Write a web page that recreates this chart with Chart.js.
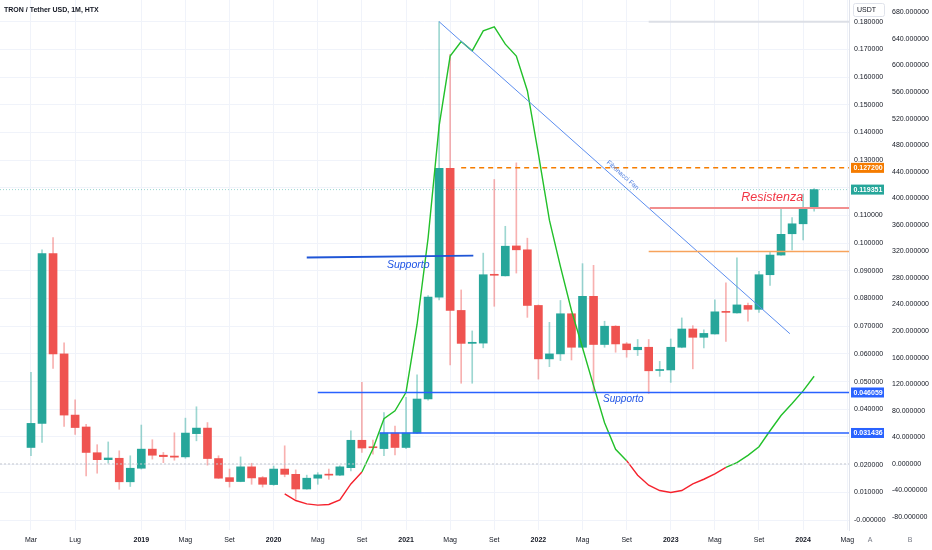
<!DOCTYPE html>
<html><head><meta charset="utf-8">
<script src="https://cdn.jsdelivr.net/npm/chart.js@4.4.1/dist/chart.umd.min.js"></script>
<style>html,body{margin:0;padding:0;background:#fff;}#wrap{position:relative;width:932px;height:550px;}</style>
</head><body><div id="wrap"><canvas id="c"></canvas></div>
<script>
// ---- categories: monthly candles, Mar 2018 .. Feb 2024
const months = ['2018-03','2018-04','2018-05','2018-06','2018-07','2018-08','2018-09','2018-10','2018-11','2018-12',
'2019-01','2019-02','2019-03','2019-04','2019-05','2019-06','2019-07','2019-08','2019-09','2019-10','2019-11','2019-12',
'2020-01','2020-02','2020-03','2020-04','2020-05','2020-06','2020-07','2020-08','2020-09','2020-10','2020-11','2020-12',
'2021-01','2021-02','2021-03','2021-04','2021-05','2021-06','2021-07','2021-08','2021-09','2021-10','2021-11','2021-12',
'2022-01','2022-02','2022-03','2022-04','2022-05','2022-06','2022-07','2022-08','2022-09','2022-10','2022-11','2022-12',
'2023-01','2023-02','2023-03','2023-04','2023-05','2023-06','2023-07','2023-08','2023-09','2023-10','2023-11','2023-12',
'2024-01','2024-02'];
// ---- OHLC (USDT)
const openP = [0.0262,0.0349,0.0962,0.0600,0.0379,0.0336,0.0243,0.0218,0.0223,0.0138,
0.0187,0.0256,0.0234,0.0231,0.0228,0.0312,0.0332,0.0222,0.0153,0.0139,0.0192,0.0153,
0.0128,0.0184,0.0165,0.0112,0.0151,0.0164,0.0162,0.0189,0.0288,0.0263,0.0258,0.0314,
0.0262,0.0314,0.0437,0.0805,0.1270,0.0757,0.0638,0.0639,0.0886,0.0882,0.0990,0.0976,
0.0775,0.0582,0.0600,0.0745,0.0624,0.0808,0.0634,0.0700,0.0636,0.0615,0.0624,0.0540,
0.0542,0.0624,0.0690,0.0660,0.0672,0.0752,0.0748,0.0775,0.0761,0.0886,0.0957,0.1034,
0.1070,0.1125];
const highP = [0.0533,0.0976,0.1020,0.0640,0.0434,0.0346,0.0272,0.0282,0.0250,0.0232,
0.0343,0.0290,0.0244,0.0315,0.0368,0.0409,0.0352,0.0232,0.0184,0.0228,0.0205,0.0157,
0.0195,0.0268,0.0181,0.0162,0.0171,0.0184,0.0196,0.0322,0.0497,0.0289,0.0388,0.0339,
0.0443,0.0524,0.0811,0.1800,0.1682,0.0831,0.0683,0.0964,0.1230,0.1061,0.1290,0.1018,
0.0777,0.0714,0.0793,0.0747,0.0926,0.0920,0.0718,0.0702,0.0641,0.0652,0.0652,0.0573,
0.0654,0.0730,0.0702,0.0687,0.0795,0.0857,0.0947,0.0784,0.0898,0.0970,0.1128,0.1092,
0.1177,0.1197];
const lowP = [0.0232,0.0280,0.0548,0.0338,0.0309,0.0159,0.0169,0.0205,0.0111,0.0121,
0.0184,0.0220,0.0207,0.0216,0.0223,0.0286,0.0198,0.0150,0.0119,0.0138,0.0129,0.0119,
0.0125,0.0156,0.0075,0.0111,0.0129,0.0147,0.0160,0.0177,0.0244,0.0238,0.0232,0.0235,
0.0258,0.0312,0.0433,0.0795,0.0560,0.0494,0.0494,0.0622,0.0772,0.0881,0.0892,0.0732,
0.0509,0.0554,0.0576,0.0578,0.0622,0.0461,0.0624,0.0606,0.0588,0.0594,0.0457,0.0519,
0.0497,0.0622,0.0546,0.0622,0.0671,0.0645,0.0747,0.0718,0.0750,0.0847,0.0956,0.0976,
0.1012,0.1116];
const closeP = [0.0349,0.0962,0.0600,0.0379,0.0334,0.0244,0.0218,0.0224,0.0138,0.0187,
0.0256,0.0234,0.0229,0.0227,0.0314,0.0332,0.0222,0.0151,0.0139,0.0192,0.0152,0.0129,
0.0184,0.0165,0.0112,0.0151,0.0163,0.0162,0.0192,0.0288,0.0260,0.0261,0.0314,0.0262,
0.0314,0.0437,0.0805,0.1270,0.0757,0.0638,0.0642,0.0886,0.0884,0.0989,0.0976,0.0775,
0.0582,0.0600,0.0745,0.0624,0.0808,0.0634,0.0700,0.0636,0.0615,0.0624,0.0539,0.0543,
0.0624,0.0690,0.0660,0.0674,0.0752,0.0750,0.0777,0.0761,0.0886,0.0957,0.1032,0.1070,
0.1125,0.119351];
// ---- oscillator (right scale)
const osc = [null,null,null,null,null,null,null,null,null,null,
null,null,null,null,null,null,null,null,null,null,null,null,
null,-45,-55,-60,-62,-61,-54,-30,-12,23,68,80,
108,210,340,509,614,636,622,652,658,632,614,562,
467,367,297,231,175,118,62,22,5,-17,-32,-40,
-43,-40,-30,-23,-15,-5,2,13,26,50,73,91,
110,132];
// ---- axis ticks
const xTickPos = [0,4,10,14,18,22,26,30,34,38,42,46,50,54,58,62,66,70,74];
const xTickLabels = ['Mar','Lug','2019','Mag','Set','2020','Mag','Set','2021','Mag','Set','2022','Mag','Set','2023','Mag','Set','2024','Mag'];
const priceTicks = [0,0.01,0.02,0.03,0.04,0.05,0.06,0.07,0.08,0.09,0.10,0.11,0.12,0.13,0.14,0.15,0.16,0.17,0.18];
const priceTickLabels = ['-0.000000','0.010000','0.020000','','0.040000','0.050000','0.060000','0.070000','0.080000','0.090000','0.100000','0.110000','','0.130000','0.140000','0.150000','0.160000','0.170000','0.180000'];
const oscTicks = [-80,-40,0,40,80,120,160,200,240,280,320,360,400,440,480,520,560,600,640,680];
// ---- drawn levels (price) and their start month index
const supportTop = [0.0948, 0.0955]; const supportTopFrom = 25.0; const supportTopTo = 40.1;
const support1 = 0.046059; const support1From = 26.0;
const support2 = 0.031436; const support2From = 31.6;
const resistance = 0.1127; const resistanceFrom = 56.1;
const orangeLevel = 0.0970; const orangeFrom = 56.0;
const topLevel = 0.18; const topFrom = 56.0;
const dashedLevel = 0.1272; const dashedFrom = 39.0;
const lastPrice = 0.119351;
const fanFrom = [37, 0.18]; const fanTo = [68.8, 0.0673];
const axisMarkers = [0.1272, 0.119351, 0.046059, 0.031436];
const axisMarkerColors = ['#f57c00', '#26a69a', '#2962ff', '#2962ff'];

const X_MIN = -2.81, X_MAX = 74.16;
const UP = '#26a69a', DN = '#ef5350';
const isUp = months.map((m,i)=>closeP[i] >= openP[i]);

function hLine(x0, x1, y0, y1, color, width, dash, axis){
  return {type:'line', data:[{x:x0,y:y0},{x:x1,y:y1}], borderColor:color, borderWidth:width,
    borderDash:dash||[], pointRadius:0, tension:0, yAxisID:axis||'y', order:0};
}

Chart.defaults.font.family = "'Liberation Sans', Arial, sans-serif";
Chart.defaults.font.size = 7;
Chart.defaults.color = '#131722';

const textPlugin = {
  id:'texts',
  afterDraw(chart){
    const c = chart.ctx, xs = chart.scales.x, ys = chart.scales.y;
    c.save();
    c.fillStyle = '#131722'; c.font = "600 7px 'Liberation Sans', Arial"; c.textBaseline='middle'; c.textAlign='left';
    c.fillText('TRON / Tether USD, 1M, HTX', 4, 10);
    const txt = (s, xi, p, color, font) => {
      c.font = font; c.fillStyle = color; c.textAlign='center'; c.textBaseline='middle';
      c.fillText(s, xs.getPixelForValue(xi), ys.getPixelForValue(p));
    };
    txt('Supporto', 34.2, 0.0921, '#1e53e5', "italic 500 10.5px 'Liberation Sans', Arial");
    txt('Supporto', 53.7, 0.0437, '#1e53e5', "italic 500 10px 'Liberation Sans', Arial");
    txt('Resistenza', 67.2, 0.1165, '#f23645', "italic 500 12.5px 'Liberation Sans', Arial");
    const fx0 = xs.getPixelForValue(fanFrom[0]), fy0 = ys.getPixelForValue(fanFrom[1]);
    const fx1 = xs.getPixelForValue(fanTo[0]), fy1 = ys.getPixelForValue(fanTo[1]);
    const ang = Math.atan2(fy1-fy0, fx1-fx0);
    const t = (xs.getPixelForValue(53.2)-fx0)/(fx1-fx0);
    const px = fx0 + t*(fx1-fx0), py = fy0 + t*(fy1-fy0);
    c.translate(px + 4*Math.sin(ang), py - 4*Math.cos(ang));
    c.rotate(ang);
    c.font = "6.5px 'Liberation Sans', Arial"; c.fillStyle = '#4f7fe0'; c.textAlign='center'; c.textBaseline='bottom';
    c.fillText('Fibonacci Fan', 0, 0);
    c.restore();
    c.save();
    axisMarkers.forEach((v,k)=>{
      const y = ys.getPixelForValue(v);
      c.fillStyle = axisMarkerColors[k];
      c.fillRect(851, y-5, 33, 10);
      c.fillStyle = '#fff'; c.font = "600 7px 'Liberation Sans', Arial"; c.textAlign='left'; c.textBaseline='middle';
      c.fillText(v.toFixed(6), 853.5, y+0.5);
    });
    c.fillStyle = '#fff'; c.strokeStyle = '#e0e3eb'; c.lineWidth = 1;
    c.beginPath(); c.roundRect(853.5, 3.5, 31, 13, 2); c.fill(); c.stroke();
    c.fillStyle = '#131722'; c.font = "7px 'Liberation Sans', Arial"; c.textAlign='left'; c.textBaseline='middle';
    c.fillText('USDT', 857, 10.5);
    c.fillStyle = '#787b86'; c.textAlign='center';
    c.fillText('A', 870, 540); c.fillText('B', 910, 540);
    c.restore();
  }
};

const datasets = [
  {type:'bar', label:'wick', data: months.map((m,i)=>({x:i, y:[lowP[i], highP[i]]})),
   backgroundColor: isUp.map(u=>u?'rgba(38,166,154,0.45)':'rgba(239,83,80,0.45)'),
   barThickness:1, grouped:false, order:3, borderWidth:0},
  {type:'bar', label:'body', data: months.map((m,i)=>({x:i, y:[openP[i], closeP[i]]})),
   backgroundColor: isUp.map(u=>u?UP:DN), barThickness:8, grouped:false, order:2, borderWidth:0, minBarLength:1},
  hLine(X_MIN, X_MAX, lastPrice, lastPrice, 'rgba(38,166,154,0.45)', 1, [1,2]),
  hLine(X_MIN, X_MAX, 0, 0, '#c3c6ce', 1, [2,2], 'yOsc'),
  hLine(supportTopFrom, supportTopTo, supportTop[0], supportTop[1], '#1f55d6', 2),
  hLine(support1From, X_MAX, support1, support1, '#2962ff', 1.5),
  hLine(support2From, X_MAX, support2, support2, '#2962ff', 1.5),
  hLine(resistanceFrom, X_MAX, resistance, resistance, '#f28e8e', 2),
  hLine(orangeFrom, X_MAX, orangeLevel, orangeLevel, '#f7a35c', 1.5),
  hLine(topFrom, X_MAX, topLevel, topLevel, '#dcdfe6', 2),
  hLine(dashedFrom, X_MAX, dashedLevel, dashedLevel, '#f57c00', 1.5, [5,4]),
  hLine(fanFrom[0], fanTo[0], fanFrom[1], fanTo[1], '#5b8def', 1),
  {type:'line', label:'osc', yAxisID:'yOsc', order:0,
   data: osc.map((v,i)=>v==null?null:{x:i,y:v}).filter(Boolean),
   borderWidth:1.4, pointRadius:0, tension:0,
   segment:{borderColor: ctx => ctx.p1.parsed.y < 0 ? '#f5222d' : '#22c02a'}, borderColor:'#22c02a'}
];

new Chart(document.getElementById('c'), {
  data:{datasets},
  options:{
    responsive:true, maintainAspectRatio:false, animation:false, events:[],
    layout:{padding:0, autoPadding:false},
    plugins:{legend:{display:false}, tooltip:{enabled:false}},
    scales:{
      x:{type:'linear', position:'bottom', min:X_MIN, max:X_MAX, offset:false,
        afterBuildTicks: s => { s.ticks = xTickPos.map(v=>({value:v})); },
        afterFit: s => { s.height = 20; s.paddingLeft = 0; s.paddingRight = 0; },
        ticks:{autoSkip:false, maxRotation:0, padding:6, color:'#131722',
          callback:(v,i)=>xTickLabels[i],
          font: ctx => ({size:7, weight: (ctx.tick && /^\d{4}$/.test(xTickLabels[ctx.index])) ? '600' : '400'})},
        grid:{color:'#f0f3fa', drawTicks:false, offset:false}, border:{display:false}},
      y:{type:'linear', position:'right', weight:0, min:-0.003612, max:0.187839,
        afterBuildTicks: s => { s.ticks = priceTicks.map(v=>({value:v})); },
        afterFit: s => { s.width = 43; s.paddingTop = 0; s.paddingBottom = 0; },
        ticks:{autoSkip:false, padding:5, color:'#131722', callback:(v,i)=>priceTickLabels[i]},
        grid:{color:'#f0f3fa', drawTicks:false}, border:{display:true, color:'#e0e3eb'}},
      yOsc:{type:'linear', position:'right', weight:1, min:-99.4, max:698.5,
        afterBuildTicks: s => { s.ticks = oscTicks.map(v=>({value:v})); },
        afterFit: s => { s.width = 40; s.paddingTop = 0; s.paddingBottom = 0; },
        ticks:{autoSkip:false, padding:0, color:'#131722', callback:(v)=>v.toFixed(6)},
        grid:{display:false, drawTicks:false}, border:{display:false}}
    }
  },
  plugins:[textPlugin]
});
</script></body></html>
